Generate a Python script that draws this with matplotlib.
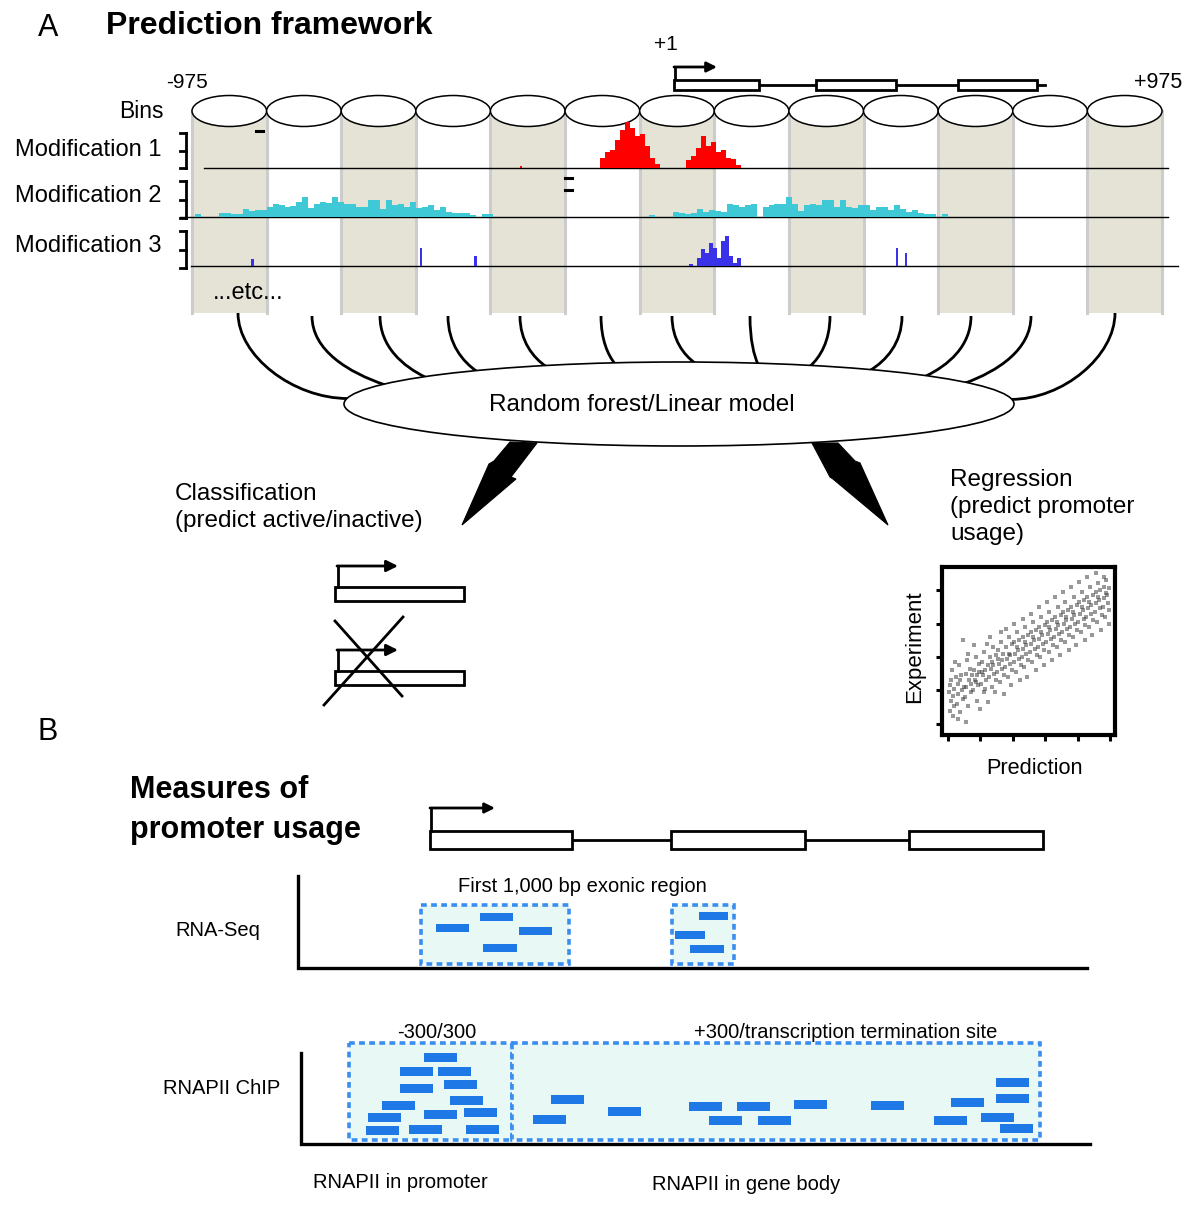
import numpy as np
import matplotlib
matplotlib.use('Agg')
import matplotlib.pyplot as plt
from matplotlib.patches import Rectangle, Ellipse, Polygon, PathPatch
from matplotlib.path import Path

plt.rcParams['font.family'] = ['Liberation Sans', 'DejaVu Sans']

# ---------------- data ----------------
n_bins = 13
bin_bp = 150
track_names = ['Modification 1', 'Modification 2', 'Modification 3']

# Modification 1 (red) signal, bp start and 10 bp bins
mod1_peak1_start = -155
mod1_peak1 = [10, 16, 18, 28, 38, 46, 40, 32, 34, 22, 10, 4]
mod1_peak2_start = 18
mod1_peak2 = [8, 12, 20, 32, 22, 26, 16, 18, 10, 9, 3]
mod1_bin = 10
mod1_spot_bp = [-316]
mod1_spot_val = [2]

# Modification 2 (cyan) signal, 12 bp bins
mod2_bin = 12
mod2_reg1_start = -969
mod2_reg1 = [3, 0, 0, 0, 4, 4, 3, 3, 8, 6, 7, 7, 10, 13, 12, 10, 11, 15, 20, 9,
             13, 15, 14, 20, 15, 13, 13, 10, 10, 17, 17, 8, 17, 12, 13, 10, 15, 9, 10, 12,
             7, 10, 5, 4, 4, 4, 2, 0, 3, 3]
mod2_reg2_start = -56
mod2_reg2 = [2, 0, 0, 0, 5, 4, 3, 4, 8, 5, 7, 6, 5, 13, 12, 10, 12, 13, 0, 10,
             12, 13, 13, 20, 13, 6, 12, 13, 12, 17, 17, 10, 17, 10, 9, 12, 12, 7, 10, 10,
             7, 12, 8, 5, 7, 4, 3, 3, 0, 3]

# Modification 3 (blue) signal
mod3_spike_bp = [-856, -517, -408, 440, 458]
mod3_spike_val = [7, 18, 10, 18, 13]
mod3_cluster_start = 24
mod3_bin = 8
mod3_cluster = [2, 0, 8, 17, 13, 23, 18, 8, 25, 30, 10, 3, 8]

# Regression scatter (prediction vs experiment)
pred_x = [0.02,0.05,0.08,0.1,0.12,0.15,0.18,0.2,0.22,0.05,0.14,0.24,
          0.27,0.3,0.32,0.35,0.38,0.4,0.42,0.45,0.47,0.3,0.36,0.48,
          0.52,0.55,0.57,0.6,0.62,0.65,0.68,0.7,0.72,0.55,0.63,0.74,
          0.77,0.8,0.82,0.85,0.88,0.9,0.92,0.95,0.98,0.8,0.87,0.97,
          1.02,1.05,1.07,1.1,1.12,1.15,1.18,1.2,1.22,1.05,1.13,1.24,
          1.27,1.3,1.32,1.35,1.38,1.4,1.42,1.45,1.47,1.3,1.36,1.48,
          1.52,1.55,1.57,1.6,1.62,1.65,1.68,1.7,1.72,1.55,1.63,1.74,
          1.77,1.8,1.82,1.85,1.88,1.9,1.92,1.95,1.98,1.8,1.87,1.97,
          2.02,2.05,2.07,2.1,2.12,2.15,2.18,2.2,2.22,2.05,2.13,2.24,
          2.27,2.3,2.32,2.35,2.38,2.4,2.42,2.45,2.47,2.3,2.36,2.48,
          2.52,2.55,2.57,2.6,2.62,2.65,2.68,2.7,2.72,2.55,2.63,2.74,
          2.77,2.8,2.82,2.85,2.88,2.9,2.92,2.95,2.98,2.8,2.87,2.97,
          3.02,3.05,3.07,3.1,3.12,3.15,3.18,3.2,3.22,3.05,3.13,3.24,
          3.27,3.3,3.32,3.35,3.38,3.4,3.42,3.45,3.47,3.3,3.36,3.48,
          3.52,3.55,3.57,3.6,3.62,3.65,3.68,3.7,3.72,3.55,3.63,3.74,
          3.77,3.8,3.82,3.85,3.88,3.9,3.92,3.95,3.98,3.8,3.87,3.97,
          4.02,4.05,4.07,4.1,4.12,4.15,4.18,4.2,4.22,4.05,4.13,4.24,
          4.27,4.3,4.32,4.35,4.38,4.4,4.42,4.45,4.47,4.3,4.36,4.48,
          4.52,4.55,4.57,4.6,4.62,4.65,4.68,4.7,4.72,4.55,4.63,4.74,
          4.77,4.8,4.82,4.85,4.88,4.9,4.92,4.95,4.98,4.8,4.87,4.97]
exp_y = [0.95,0.4,1.3,0.7,1.6,0.25,1.05,0.55,1.85,1.15,0.85,1.4,
         0.6,1.2,0.9,1.75,0.35,1.45,1.0,0.75,2.5,0.15,1.3,1.1,
         0.8,1.5,1.1,1.9,0.55,1.3,1.65,0.95,1.2,0.05,2.1,1.45,
         1.0,1.6,1.3,2.0,0.7,1.45,1.15,1.8,0.45,2.35,1.25,1.55,
         1.2,1.85,1.45,0.95,2.15,1.6,1.3,2.4,0.65,1.55,1.05,1.75,
         1.4,2.0,1.65,1.1,2.3,1.75,1.5,0.95,2.05,2.6,1.85,1.3,
         1.55,2.2,1.8,1.25,2.45,1.9,1.65,2.1,0.9,1.95,2.75,1.45,
         1.7,2.3,1.95,1.4,2.6,2.05,1.8,1.15,2.4,2.85,2.1,1.6,
         1.85,2.45,2.1,1.55,2.75,2.2,1.95,2.5,1.3,3.0,2.3,1.75,
         2.0,2.6,2.25,1.7,2.9,2.35,2.1,1.4,2.65,3.15,2.45,1.9,
         2.15,2.75,2.4,1.85,3.05,2.5,2.25,2.8,1.6,3.3,2.6,2.05,
         2.3,2.9,2.55,2.0,3.2,2.65,2.4,1.75,2.95,3.5,2.75,2.2,
         2.45,3.05,2.7,2.15,3.35,2.8,2.55,3.1,1.9,3.65,2.9,2.35,
         2.6,3.2,2.85,2.3,3.5,2.95,2.7,2.05,3.25,3.8,3.05,2.5,
         2.75,3.35,3.0,2.45,3.65,3.1,2.85,3.4,2.2,3.95,3.2,2.65,
         2.9,3.5,3.15,2.6,3.8,3.25,3.0,2.35,3.55,4.1,3.35,2.8,
         3.05,3.65,3.3,2.75,3.95,3.4,3.15,3.7,2.5,4.25,3.5,2.95,
         3.2,3.8,3.45,2.9,4.1,3.55,3.3,2.65,3.85,4.4,3.65,3.1,
         3.35,3.95,3.6,3.05,4.2,3.7,3.45,4.0,2.8,4.5,3.8,3.25,
         3.5,4.1,3.75,3.2,4.3,3.85,3.6,4.05,3.0,4.4,3.9,3.4]

# Panel B reads (x start, y) in picture units of the schematic
rnaseq_read_x = [436, 480, 519, 483, 699, 675, 690]
rnaseq_read_y = [924, 913, 927, 944, 912, 931, 945]
rnaseq_read_w = [33, 33, 33, 34, 29, 30, 34]
chip_read_x = [424, 400, 438, 400, 444, 382, 450, 368, 424, 464, 366, 409, 466,
               551, 533, 608, 689, 737, 709, 758, 794, 871, 934, 951, 981, 996, 996, 1000]
chip_read_y = [1053, 1067, 1067, 1084, 1080, 1101, 1096, 1113, 1110, 1108, 1126, 1125, 1125,
               1095, 1115, 1107, 1102, 1102, 1116, 1116, 1100, 1101, 1116, 1098, 1113, 1078, 1094, 1124]

# ---------------- figure ----------------
W, H = 1200, 1208
fig = plt.figure(figsize=(12, 12.08), dpi=100)
ax = fig.add_axes([0, 0, 1, 1])
ax.set_xlim(0, W)
ax.set_ylim(H, 0)
ax.axis('off')

def fbox(x0, y0, x1, y1):
    return [x0 / W, 1 - y1 / H, (x1 - x0) / W, (y1 - y0) / H]

K = 'black'
BEIGE = '#e4e3d6'

# titles
ax.text(38, 28, 'A', fontsize=22, va='center', ha='left')
ax.text(106, 26, 'Prediction framework', fontsize=23, fontweight='bold', va='center')

# cylinders
cx0, cx1 = 192, 1162
cw = (cx1 - cx0) / n_bins
top_y, bot_y = 111, 313
for i in range(n_bins):
    x = cx0 + i * cw
    ax.add_patch(Rectangle((x, top_y), cw, bot_y - top_y,
                           facecolor=BEIGE if i % 2 == 0 else 'white', edgecolor='none', zorder=1))
for i in range(n_bins + 1):
    x = cx0 + i * cw
    ax.plot([x, x], [top_y, bot_y], color='#cccccc', lw=2.2, zorder=1.5)
for i in range(n_bins):
    x = cx0 + (i + 0.5) * cw
    ax.add_patch(Ellipse((x, top_y), cw, 31, facecolor='white', edgecolor=K, lw=1.1, zorder=5))

ax.text(187, 83, '-975', fontsize=15, ha='center', va='center')
ax.text(1158, 83, '+975', fontsize=15.5, ha='center', va='center')
ax.text(666, 45, '+1', fontsize=15, ha='center', va='center')
ax.text(164, 111, 'Bins', fontsize=16.5, ha='right', va='center')

# top gene model
ax.plot([759, 816], [85, 85], color=K, lw=2, zorder=6)
ax.plot([896, 958], [85, 85], color=K, lw=2, zorder=6)
ax.plot([1037, 1045], [85, 85], color=K, lw=2, zorder=6)
for (a, b) in [(674, 759), (816, 896), (958, 1037)]:
    ax.add_patch(Rectangle((a, 80), b - a, 9.5, facecolor='white', edgecolor=K, lw=2, zorder=7))
ax.plot([675, 675], [80, 67], color=K, lw=2, zorder=6)
ax.annotate('', xy=(717, 67), xytext=(674, 67),
            arrowprops=dict(arrowstyle='-|>', color=K, lw=2, mutation_scale=15, shrinkA=0, shrinkB=0))

# track labels, brackets, baselines
label_y = [150, 196, 246]
brackets = [(133, 168), (181, 218), (231, 268)]
baselines = [(204, 1168, 168), (180, 1168, 217), (191, 1178, 266)]
for name, ly, (b0, b1), (l0, l1, ly2) in zip(track_names, label_y, brackets, baselines):
    ax.text(15, ly, name, fontsize=17, va='center', ha='left')
    ax.plot([186, 186], [b0, b1], color=K, lw=2, zorder=6)
    for t in np.linspace(b0, b1, 3):
        ax.plot([180, 186], [t, t], color=K, lw=2, zorder=6)
    ax.plot([l0, l1], [ly2, ly2], color=K, lw=1, zorder=6)
ax.plot([256, 263], [131, 131], color=K, lw=2.2, zorder=6)
ax.plot([565, 572], [178, 178], color=K, lw=2.2, zorder=6)
ax.plot([565, 572], [190, 190], color=K, lw=2.2, zorder=6)
ax.text(213, 293, '...etc...', fontsize=17, va='center', ha='left')

# signal tracks
def track_axes(y_bottom):
    t = fig.add_axes(fbox(cx0, y_bottom - 50, cx1, y_bottom))
    t.set_xlim(-975, 975)
    t.set_ylim(0, 50)
    t.axis('off')
    t.patch.set_alpha(0)
    return t

t1 = track_axes(168)
for start, vals in [(mod1_peak1_start, mod1_peak1), (mod1_peak2_start, mod1_peak2)]:
    xs = start + mod1_bin * np.arange(len(vals))
    t1.bar(xs, vals, width=mod1_bin, align='edge', color='#ff0000', linewidth=0)
t1.bar(mod1_spot_bp, mod1_spot_val, width=5, align='edge', color='#ff0000', linewidth=0)

t2 = track_axes(217)
for start, vals in [(mod2_reg1_start, mod2_reg1), (mod2_reg2_start, mod2_reg2)]:
    xs = start + mod2_bin * np.arange(len(vals))
    t2.bar(xs, vals, width=mod2_bin, align='edge', color='#3fc9d6', linewidth=0)

t3 = track_axes(266)
xs = mod3_cluster_start + mod3_bin * np.arange(len(mod3_cluster))
t3.bar(xs, mod3_cluster, width=mod3_bin, align='edge', color='#3a32e8', linewidth=0)
t3.bar(mod3_spike_bp, mod3_spike_val, width=5, align='edge', color='#3a32e8', linewidth=0)

# model ellipse and connecting arcs
ecx, ecy, ea, eb = 679, 404, 335, 42
ax.add_patch(Ellipse((ecx, ecy), 2 * ea, 2 * eb, facecolor='white', edgecolor=K, lw=1.2, zorder=4))
ax.text(642, 405, 'Random forest/Linear model', fontsize=17.5, ha='center', va='center', zorder=6)
arc_start = [238, 312, 380, 448, 520, 601, 672, 750, 830, 902, 971, 1031, 1115]
arc_end = [348, 385, 426, 477, 546, 615, 695, 758, 810, 870, 925, 965, 1011]
for i, (sx, ex) in enumerate(zip(arc_start, arc_end)):
    sy = 313 if i in (0, 12) else 316
    ey = ecy - eb * np.sqrt(max(0.0, 1 - ((ex - ecx) / ea) ** 2)) + 1
    lift = 0.0 if i in (0, 12) else 0.18
    verts = [(sx, sy), (sx, sy + 0.5 * (ey - sy)),
             (ex - 0.5 * (ex - sx), ey - lift * (ey - sy)), (ex, ey)]
    ax.add_patch(PathPatch(Path(verts, [Path.MOVETO, Path.CURVE4, Path.CURVE4, Path.CURVE4]),
                           facecolor='none', edgecolor=K, lw=2, zorder=3))

# lightning-style arrows
left_arrow = [(510, 442), (537, 443), (511, 477), (516, 479), (462, 525), (489, 464), (494, 461)]
right_arrow = [(812, 443), (838, 443), (855, 461), (860, 463), (888, 525), (833, 479), (830, 477)]
for pts in (left_arrow, right_arrow):
    ax.add_patch(Polygon(pts, closed=True, facecolor=K, edgecolor=K, lw=0.8, zorder=5))

ax.text(175, 494, 'Classification', fontsize=17.5, va='center', ha='left')
ax.text(175, 521, '(predict active/inactive)', fontsize=17.5, va='center', ha='left')
ax.text(950, 480, 'Regression', fontsize=17.5, va='center', ha='left')
ax.text(950, 507, '(predict promoter', fontsize=17.5, va='center', ha='left')
ax.text(950, 534, 'usage)', fontsize=17.5, va='center', ha='left')

# classification gene icons
for by in [587, 671]:
    ax.add_patch(Rectangle((335, by), 129, 14, facecolor='white', edgecolor=K, lw=2, zorder=5))
    ax.plot([338, 338], [by, by - 21], color=K, lw=2, zorder=5)
    ax.annotate('', xy=(398, by - 21), xytext=(337, by - 21),
                arrowprops=dict(arrowstyle='-|>', color=K, lw=2, mutation_scale=17, shrinkA=0, shrinkB=0))
ax.plot([335, 402], [621, 696], color=K, lw=2, zorder=6)
ax.plot([403, 324], [617, 705], color=K, lw=2, zorder=6)

# regression scatter
sax = fig.add_axes(fbox(942, 567, 1115, 735))
sax.scatter(pred_x, exp_y, s=6, marker='s', color='#333333', alpha=0.5, linewidths=0)
sax.set_xlim(-0.185, 5.15)
sax.set_ylim(-0.33, 4.69)
sax.set_xticks(range(6))
sax.set_yticks(range(5))
sax.tick_params(length=4, width=2.2, labelbottom=False, labelleft=False, direction='out')
for s in sax.spines.values():
    s.set_linewidth(3)
ax.text(915, 647, 'Experiment', fontsize=16, rotation=90, ha='center', va='center')
ax.text(1035, 768, 'Prediction', fontsize=15.7, ha='center', va='center')

# ---------------- panel B ----------------
ax.text(38, 732, 'B', fontsize=22, va='center', ha='left')
ax.text(130, 790, 'Measures of', fontsize=22, fontweight='bold', va='center', ha='left')
ax.text(130, 830, 'promoter usage', fontsize=22, fontweight='bold', va='center', ha='left')

ax.plot([572, 671], [840, 840], color=K, lw=2)
ax.plot([805, 909], [840, 840], color=K, lw=2)
for (a, b) in [(430, 572), (671, 805), (909, 1043)]:
    ax.add_patch(Rectangle((a, 831), b - a, 18, facecolor='white', edgecolor=K, lw=2, zorder=5))
ax.plot([431, 431], [831, 808], color=K, lw=2, zorder=5)
ax.annotate('', xy=(495, 808), xytext=(430, 808),
            arrowprops=dict(arrowstyle='-|>', color=K, lw=2, mutation_scale=15, shrinkA=0, shrinkB=0))

BOXFILL = '#e8f8f4'
BOXEDGE = '#3a8ef0'
READ = '#1e78e6'
dash = (0, (1.6, 1.2))

# RNA-Seq track
ax.text(175, 930, 'RNA-Seq', fontsize=14.5, va='center', ha='left')
ax.text(582, 886, 'First 1,000 bp exonic region', fontsize=14.5, va='center', ha='center')
for (a, b) in [(421, 569), (672, 734)]:
    ax.add_patch(Rectangle((a, 905), b - a, 59, facecolor=BOXFILL, edgecolor=BOXEDGE,
                           lw=2.6, linestyle=dash, zorder=2))
for x, y, w in zip(rnaseq_read_x, rnaseq_read_y, rnaseq_read_w):
    ax.add_patch(Rectangle((x, y), w, 8, facecolor=READ, edgecolor='none', zorder=3))
ax.plot([298, 298, 1087], [876, 968, 968], color=K, lw=2.4, solid_joinstyle='miter', zorder=4)

# RNAPII ChIP track
ax.text(163, 1088, 'RNAPII ChIP', fontsize=14.5, va='center', ha='left')
ax.text(437, 1032, '-300/300', fontsize=14.5, va='center', ha='center')
ax.text(846, 1033, '+300/transcription termination site', fontsize=14.5, va='center', ha='center')
ax.add_patch(Rectangle((349, 1043), 163, 97, facecolor=BOXFILL, edgecolor=BOXEDGE,
                       lw=2.6, linestyle=dash, zorder=2))
ax.add_patch(Rectangle((512, 1043), 528, 97, facecolor=BOXFILL, edgecolor=BOXEDGE,
                       lw=2.6, linestyle=dash, zorder=2))
for x, y in zip(chip_read_x, chip_read_y):
    ax.add_patch(Rectangle((x, y), 33, 8.5, facecolor=READ, edgecolor='none', zorder=3))
ax.plot([301, 301, 1090], [1053, 1144, 1144], color=K, lw=2.4, solid_joinstyle='miter', zorder=4)
ax.text(313, 1183, 'RNAPII in promoter', fontsize=14.5, va='center', ha='left')
ax.text(652, 1185, 'RNAPII in gene body', fontsize=14.5, va='center', ha='left')

fig.savefig('out.png', dpi=100)
